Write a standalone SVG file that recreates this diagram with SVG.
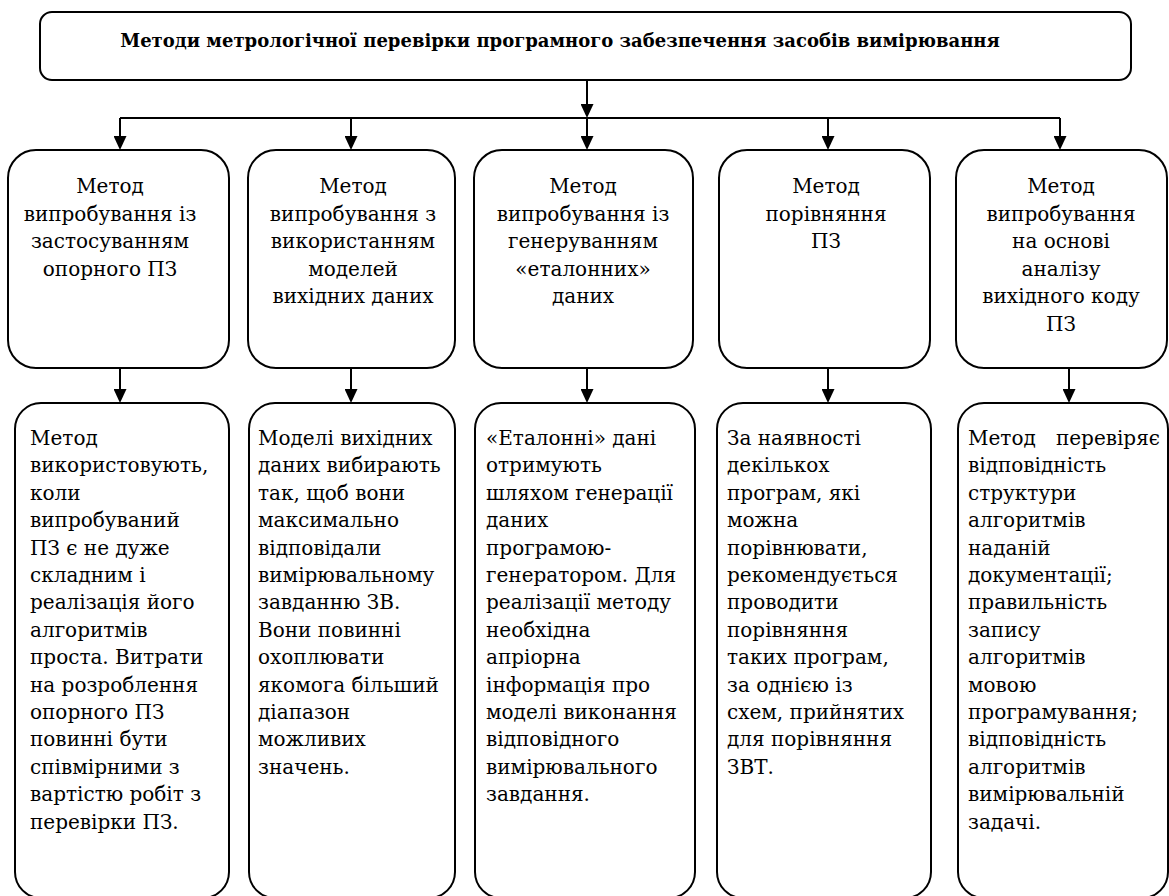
<svg xmlns="http://www.w3.org/2000/svg" width="1169" height="896" viewBox="0 0 1169 896">
<style>
.box{fill:#fff;stroke:#000;stroke-width:2}
.t{font-family:'DejaVu Serif',serif;font-size:20px;fill:#000}
.c{text-anchor:middle}
.title{font-family:'DejaVu Serif',serif;font-size:18px;font-weight:bold;text-anchor:middle;fill:#000}
.ln{stroke:#000;stroke-width:2;fill:none}
.ar{stroke:#000;stroke-width:2;fill:none;marker-end:url(#ah)}
</style>
<defs>
<marker id="ah" markerUnits="userSpaceOnUse" viewBox="0 0 14 13" markerWidth="14" markerHeight="13" refX="10" refY="6.5" orient="auto">
<path d="M0,0 L14,6.5 L0,13 z" fill="#000"/>
</marker>
</defs>
<rect width="1169" height="896" fill="#fff"/>

<g id="connectors">
<line class="ar" x1="587" y1="80" x2="587" y2="114"/>
<line class="ln" x1="120" y1="118" x2="1060" y2="118"/>
<line class="ar" x1="120" y1="118" x2="120" y2="146"/>
<line class="ar" x1="351" y1="118" x2="351" y2="146"/>
<line class="ar" x1="587" y1="118" x2="587" y2="146"/>
<line class="ar" x1="828" y1="118" x2="828" y2="146"/>
<line class="ar" x1="1060" y1="118" x2="1060" y2="146"/>
<line class="ar" x1="120" y1="368" x2="120" y2="399"/>
<line class="ar" x1="351" y1="368" x2="351" y2="399"/>
<line class="ar" x1="587" y1="368" x2="587" y2="399"/>
<line class="ar" x1="828" y1="368" x2="828" y2="399"/>
<line class="ar" x1="1069" y1="368" x2="1069" y2="399"/>
</g>

<g id="title">
<rect class="box" x="40" y="12" width="1091" height="68" rx="12"/>
<text class="title" x="560" y="47">Методи метрологічної перевірки програмного забезпечення засобів вимірювання</text>
</g>

<g id="m1">
<rect class="box" x="8" y="150" width="221" height="218" rx="28"/>
<text class="t c" x="110" y="193">Метод<tspan x="110" dy="27.5">випробування із</tspan><tspan x="110" dy="27.5">застосуванням</tspan><tspan x="110" dy="27.5">опорного ПЗ</tspan></text>
</g>
<g id="m2">
<rect class="box" x="248" y="150" width="207" height="218" rx="28"/>
<text class="t c" x="353" y="193">Метод<tspan x="353" dy="27.5">випробування з</tspan><tspan x="353" dy="27.5">використанням</tspan><tspan x="353" dy="27.5">моделей</tspan><tspan x="353" dy="27.5">вихідних даних</tspan></text>
</g>
<g id="m3">
<rect class="box" x="474" y="150" width="219" height="218" rx="28"/>
<text class="t c" x="583" y="193">Метод<tspan x="583" dy="27.5">випробування із</tspan><tspan x="583" dy="27.5">генеруванням</tspan><tspan x="583" dy="27.5">«еталонних»</tspan><tspan x="583" dy="27.5">даних</tspan></text>
</g>
<g id="m4">
<rect class="box" x="719" y="150" width="211" height="218" rx="28"/>
<text class="t c" x="826" y="193">Метод<tspan x="826" dy="27.5">порівняння</tspan><tspan x="826" dy="27.5">ПЗ</tspan></text>
</g>
<g id="m5">
<rect class="box" x="956" y="150" width="211" height="218" rx="28"/>
<text class="t c" x="1061" y="193">Метод<tspan x="1061" dy="27.5">випробування</tspan><tspan x="1061" dy="27.5">на основі</tspan><tspan x="1061" dy="27.5">аналізу</tspan><tspan x="1061" dy="27.5">вихідного коду</tspan><tspan x="1061" dy="27.5">ПЗ</tspan></text>
</g>

<g id="d1">
<rect class="box" x="15" y="403" width="214" height="495" rx="26"/>
<text class="t" x="30" y="445">Метод<tspan x="30" dy="27.4">використовують,</tspan><tspan x="30" dy="27.4">коли</tspan><tspan x="30" dy="27.4">випробуваний</tspan><tspan x="30" dy="27.4">ПЗ є не дуже</tspan><tspan x="30" dy="27.4">складним і</tspan><tspan x="30" dy="27.4">реалізація його</tspan><tspan x="30" dy="27.4">алгоритмів</tspan><tspan x="30" dy="27.4">проста. Витрати</tspan><tspan x="30" dy="27.4">на розроблення</tspan><tspan x="30" dy="27.4">опорного ПЗ</tspan><tspan x="30" dy="27.4">повинні бути</tspan><tspan x="30" dy="27.4">співмірними з</tspan><tspan x="30" dy="27.4">вартістю робіт з</tspan><tspan x="30" dy="27.4">перевірки ПЗ.</tspan></text>
</g>
<g id="d2">
<rect class="box" x="249" y="403" width="206" height="495" rx="26"/>
<text class="t" x="258" y="445">Моделі вихідних<tspan x="258" dy="27.4">даних вибирають</tspan><tspan x="258" dy="27.4">так, щоб вони</tspan><tspan x="258" dy="27.4">максимально</tspan><tspan x="258" dy="27.4">відповідали</tspan><tspan x="258" dy="27.4">вимірювальному</tspan><tspan x="258" dy="27.4">завданню ЗВ.</tspan><tspan x="258" dy="27.4">Вони повинні</tspan><tspan x="258" dy="27.4">охоплювати</tspan><tspan x="258" dy="27.4">якомога більший</tspan><tspan x="258" dy="27.4">діапазон</tspan><tspan x="258" dy="27.4">можливих</tspan><tspan x="258" dy="27.4">значень.</tspan></text>
</g>
<g id="d3">
<rect class="box" x="475" y="403" width="220" height="495" rx="26"/>
<text class="t" x="486" y="445">«Еталонні» дані<tspan x="486" dy="27.4">отримують</tspan><tspan x="486" dy="27.4">шляхом генерації</tspan><tspan x="486" dy="27.4">даних</tspan><tspan x="486" dy="27.4">програмою-</tspan><tspan x="486" dy="27.4">генератором. Для</tspan><tspan x="486" dy="27.4">реалізації методу</tspan><tspan x="486" dy="27.4">необхідна</tspan><tspan x="486" dy="27.4">апріорна</tspan><tspan x="486" dy="27.4">інформація про</tspan><tspan x="486" dy="27.4">моделі виконання</tspan><tspan x="486" dy="27.4">відповідного</tspan><tspan x="486" dy="27.4">вимірювального</tspan><tspan x="486" dy="27.4">завдання.</tspan></text>
</g>
<g id="d4">
<rect class="box" x="717" y="403" width="214" height="495" rx="26"/>
<text class="t" x="727" y="445">За наявності<tspan x="727" dy="27.4">декількох</tspan><tspan x="727" dy="27.4">програм, які</tspan><tspan x="727" dy="27.4">можна</tspan><tspan x="727" dy="27.4">порівнювати,</tspan><tspan x="727" dy="27.4">рекомендується</tspan><tspan x="727" dy="27.4">проводити</tspan><tspan x="727" dy="27.4">порівняння</tspan><tspan x="727" dy="27.4">таких програм,</tspan><tspan x="727" dy="27.4">за однією із</tspan><tspan x="727" dy="27.4">схем, прийнятих</tspan><tspan x="727" dy="27.4">для порівняння</tspan><tspan x="727" dy="27.4">ЗВТ.</tspan></text>
</g>
<g id="d5">
<rect class="box" x="958" y="403" width="210" height="495" rx="26"/>
<text class="t" x="968" y="445">Метод<tspan x="1160" text-anchor="end">перевіряє</tspan><tspan x="968" dy="27.4">відповідність</tspan><tspan x="968" dy="27.4">структури</tspan><tspan x="968" dy="27.4">алгоритмів</tspan><tspan x="968" dy="27.4">наданій</tspan><tspan x="968" dy="27.4">документації;</tspan><tspan x="968" dy="27.4">правильність</tspan><tspan x="968" dy="27.4">запису</tspan><tspan x="968" dy="27.4">алгоритмів</tspan><tspan x="968" dy="27.4">мовою</tspan><tspan x="968" dy="27.4">програмування;</tspan><tspan x="968" dy="27.4">відповідність</tspan><tspan x="968" dy="27.4">алгоритмів</tspan><tspan x="968" dy="27.4">вимірювальній</tspan><tspan x="968" dy="27.4">задачі.</tspan></text>
</g>
</svg>
